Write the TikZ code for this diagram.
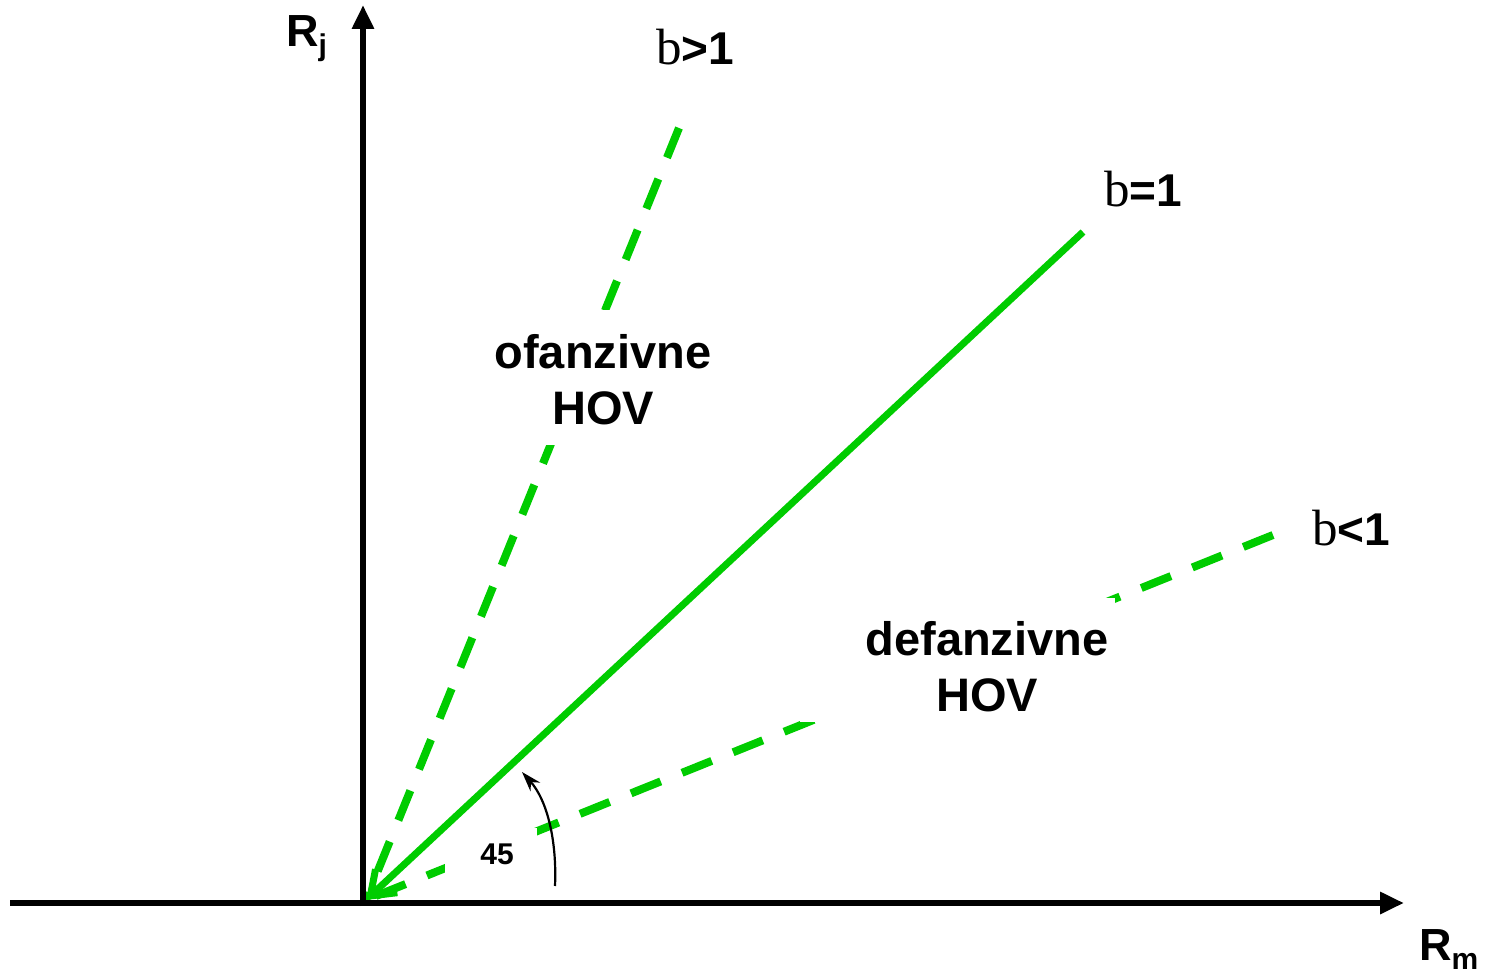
\documentclass[tikz,border=0pt]{standalone}
\usepackage{fontspec}
\setmainfont{Liberation Sans}
\newfontfamily\serifb{Liberation Serif}
\usetikzlibrary{arrows.meta}
\definecolor{lgreen}{RGB}{0,204,0}
\begin{document}
\begin{tikzpicture}[x=1pt,y=-1pt,
  axis/.style={line width=6.5pt,-{Triangle[length=24pt,width=21pt]}},
  gdash/.style={lgreen,line width=8pt,dash pattern=on 32pt off 23pt},
  gsolid/.style={lgreen,line width=7pt,-{Straight Barb[length=22pt,width=32pt,line width=7pt]}},
  lbl/.style={font=\fontsize{45}{50}\selectfont\bfseries,inner sep=0pt},
  blbl/.style={font=\fontsize{46}{50}\selectfont\bfseries,inner sep=0pt},
  region/.style={font=\fontsize{47}{56}\selectfont\bfseries,align=center,inner sep=0pt},
  bgbox/.style={fill=white}
]
\useasboundingbox (0,0) rectangle (1489,979);
\coordinate (O) at (366,900);
\coordinate (xs) at (10,903);
\coordinate (xe) at (1404,903);
\coordinate (ys) at (363,906);
\coordinate (ye) at (363,5);
\coordinate (bg) at (679,128);
\coordinate (be) at (1083,232);
\coordinate (bl) at (1273,535);
\coordinate (a1) at (555,886);
\coordinate (a2) at (522,772);
% dashed green lines
\draw[gdash] (bg) -- (O);
\draw[gdash] (bl) -- (O);
% white backgrounds of the labels
\fill[bgbox] (489,310) rectangle (717,445);
\fill[bgbox] (800,598) rectangle (1115,722);
\fill[bgbox] (445,828) rectangle (537,874);
% solid green line
\draw[gsolid] (be) -- (O);
% region labels
\node[region] (of) at (603,380) {ofanzivne\\HOV};
\node[region] (df) at (987,667) {defanzivne\\HOV};
% axes
\draw[axis] (xs) -- (xe);
\draw[axis] (ys) -- (ye);
% angle arrow
\draw[line width=2.2pt,-{Stealth[length=20pt,width=13pt]}] (a1) .. controls (557,840) and (547,800) .. (a2);
\node[font=\fontsize{30}{34}\selectfont\bfseries,inner sep=0pt] (n45) at (497,854) {45};
% labels
\node[lbl,anchor=base west] (rj) at (286,47) {R\raisebox{-9pt}{\fontsize{30}{34}\selectfont j}};
\node[lbl,anchor=base west] (rm) at (1419,960) {R\raisebox{-9pt}{\fontsize{30}{34}\selectfont m}};
\node[blbl,anchor=base west] (t1) at (656,65) {{\fontsize{51}{50}\mdseries\serifb b}>1};
\node[blbl,anchor=base west] (t2) at (1104,207) {{\fontsize{51}{50}\mdseries\serifb b}=1};
\node[blbl,anchor=base west] (t3) at (1312,545) {{\fontsize{51}{50}\mdseries\serifb b}<1};
\end{tikzpicture}
\end{document}
